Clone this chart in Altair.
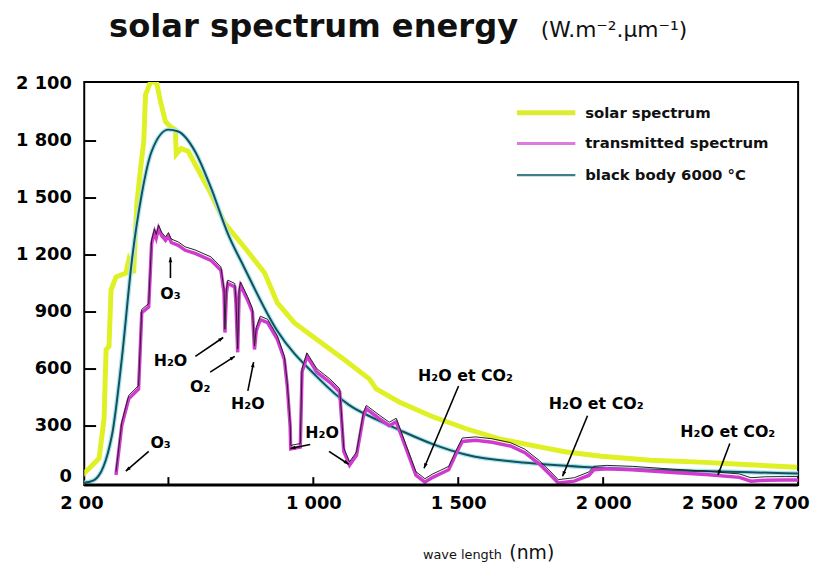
import altair as alt
import pandas as pd

# ---------------- data ----------------
solar_nm = [203, 227, 261, 278, 285, 295, 302, 319, 353, 363, 380, 391, 404, 415, 421, 438, 459, 473, 490,
            507, 524, 527, 544, 568, 592, 647, 695, 763, 832, 876, 934, 1012, 1105, 1194, 1217, 1296, 1412,
            1525, 1638, 1754, 1867, 1993, 2164, 2334, 2505, 2669]
solar_val = [42, 78, 130, 339, 703, 719, 1016, 1084, 1105, 1172, 1105, 1470, 1657, 1798, 2043, 2110, 2110,
             2006, 1902, 1876, 1860, 1730, 1761, 1746, 1678, 1522, 1365, 1240, 1105, 948, 844, 756, 651, 547,
             495, 427, 349, 287, 234, 198, 165, 141, 120, 110, 96, 83]

bb_nm = [203, 244, 305, 339, 374, 408, 442, 500, 534, 592, 647, 705, 761, 876, 1012, 1124, 1217, 1296, 1412,
         1525, 1754, 1993, 2335, 2629, 2680]
bb_val = [0, 16, 250, 651, 1172, 1521, 1745, 1860, 1850, 1745, 1553, 1313, 1136, 800, 560, 410, 335, 280, 205,
          150, 104, 80, 63, 52, 50]

tr_nm = [319, 339, 363, 397, 408, 432, 442, 452, 458, 466, 476, 490, 500, 510, 534, 558, 592, 647, 681, 692,
         695, 700, 705, 729, 733, 739, 744, 749, 773, 790, 797, 803, 817, 842, 876, 900, 910, 920, 922, 955,
         961, 978, 1012, 1057, 1091, 1105, 1125, 1149, 1173, 1183, 1228, 1262, 1286, 1320, 1354, 1385, 1412,
         1440, 1467, 1490, 1514, 1560, 1617, 1680, 1730, 1780, 1820, 1845, 1900, 1950, 1968, 2012, 2100, 2241,
         2354, 2470, 2510, 2560, 2629, 2680]
tr_val = [42, 302, 443, 495, 896, 927, 1261, 1320, 1290, 1340, 1303, 1277, 1300, 1266, 1251, 1225, 1209, 1172,
          1120, 1000, 792, 1000, 1050, 1032, 950, 688, 1000, 1040, 964, 900, 703, 800, 860, 844, 756, 650, 511,
          300, 180, 190, 584, 667, 584, 530, 479, 167, 94, 146, 354, 391, 339, 302, 323, 182, 42, 5, 30, 50, 70,
          146, 219, 225, 215, 195, 160, 100, 40, 0, 10, 40, 70, 75, 70, 55, 45, 30, 10, 15, 16, 16]

y_label_values = [0, 300, 600, 900, 1200, 1500, 1800, 2100]
y_tick_marks = [300, 600, 900, 1200, 1500, 1800]
x_label_values = [200, 1000, 1500, 2000, 2500, 2700]
x_label_texts = ["2 00", "1 000", "1 500", "2 000", "2 500", "2 700"]
x_tick_marks = [500, 1000, 1500, 2000]

ann_text = ["O₃", "H₂O", "O₂", "H₂O", "O₃", "H₂O", "H₂O et CO₂", "H₂O et CO₂", "H₂O et CO₂"]
ann_nm = [507, 507, 610, 774, 473, 1030, 1525, 1976, 2430]
ann_val = [995, 641, 505, 417, 208, 261, 563, 417, 266]

arrow_nm0 = [507, 593, 644, 774, 432, 989, 1054, 1501, 1946, 2437]
arrow_val0 = [1079, 667, 584, 485, 167, 203, 167, 511, 354, 208]
arrow_nm1 = [507, 689, 729, 794, 353, 921, 1122, 1382, 1860, 2396]
arrow_val1 = [1188, 766, 667, 636, 63, 182, 99, 78, 36, 42]

series_names = ["solar spectrum", "transmitted spectrum", "black body 6000 °C"]
title_main = "solar spectrum energy"
title_units = "(W.m⁻².µm⁻¹)"
x_title_a = "wave length"
x_title_b = "(nm)"

# ---------------- styling ----------------
W, H = 721, 407
FONT = "DejaVu Sans"
YELLOW = "#dff024"
MAGENTA = "#cf3bcf"
TEAL = "#17505a"
GLOW = "#a6e6ef"

solar = pd.DataFrame({"nm": solar_nm, "val": solar_val})
bb = pd.DataFrame({"nm": bb_nm, "val": bb_val})
tr = pd.DataFrame({"nm": tr_nm, "val": tr_val})
ann = pd.DataFrame({"t": ann_text, "nm": ann_nm, "val": ann_val})
arr = pd.DataFrame({"nm": arrow_nm0, "val": arrow_val0, "nm1": arrow_nm1, "val1": arrow_val1})
one = pd.DataFrame({"k": [0]})

x_label_expr = "".join(
    f"datum.value == {v} ? '{t}' : " for v, t in zip(x_label_values, x_label_texts)
) + "''"

xscale = alt.Scale(domain=[200, 2700], range=[-2.8, 729], nice=False, zero=False)
yscale = alt.Scale(domain=[0, 2100], range=[405, 2], nice=False, zero=False)

xaxis = alt.Axis(values=x_label_values, labelExpr=x_label_expr, ticks=False, tickSize=0, domain=False,
                 grid=False, title=None, labelFont=FONT, labelFontWeight="bold", labelFontSize=18,
                 labelColor="black", labelPadding=10, labelOverlap=False, labelBound=False, labelFlush=False,
                 labelOffset={"condition": [{"test": "datum.value == 2500", "value": -39},
                                            {"test": "datum.value == 2700", "value": -25}], "value": 0})
yaxis = alt.Axis(values=y_label_values, labelExpr="replace(format(datum.value, ','), ',', ' ')",
                 ticks=False, tickSize=0, domain=False, grid=False, title=None, labelFont=FONT,
                 labelFontWeight="bold", labelFontSize=18, labelColor="black", labelPadding=13,
                 labelOverlap=False, labelBound=False, labelFlush=False,
                 labelOffset={"condition": {"test": "datum.value == 0", "value": -7}, "value": 0})


def X(f):
    return alt.X(f, type="quantitative", scale=xscale, axis=xaxis)


def Y(f):
    return alt.Y(f, type="quantitative", scale=yscale, axis=yaxis)


solar_line = alt.Chart(solar).mark_line(color=YELLOW, strokeWidth=5, clip=True).encode(x=X("nm"), y=Y("val"))
bb_glow = alt.Chart(bb).mark_line(color=GLOW, strokeWidth=4.5, clip=True, interpolate="monotone").encode(
    x=X("nm"), y=Y("val"))
bb_line = alt.Chart(bb).mark_line(color=TEAL, strokeWidth=2, clip=True, interpolate="monotone").encode(
    x=X("nm"), y=Y("val"))
tr_line = alt.Chart(tr).mark_line(color=MAGENTA, strokeWidth=3.5, clip=True).encode(x=X("nm"), y=Y("val"))
tr_ink = alt.Chart(tr).transform_calculate(vb="datum.val + 18").mark_line(
    color="#222", strokeWidth=1, clip=True).encode(x=X("nm"), y=Y("vb"))

xt = alt.Chart(pd.DataFrame({"nm": x_tick_marks})).mark_rule(color="black", strokeWidth=2).encode(
    x=X("nm"), y=alt.value(H), y2=alt.value(H - 8))
yt = alt.Chart(pd.DataFrame({"val": y_tick_marks})).mark_rule(color="black", strokeWidth=2).encode(
    y=Y("val"), x=alt.value(0), x2=alt.value(12))
bottom = alt.Chart(one).mark_rule(color="black", strokeWidth=3).encode(
    x=alt.value(0), x2=alt.value(W), y=alt.value(H))

arrow_shafts = alt.Chart(arr).mark_rule(color="black", strokeWidth=1.6).encode(
    x=X("nm"), y=Y("val"), x2="nm1:Q", y2="val1:Q")
arrow_heads = alt.Chart(arr).transform_calculate(
    ang="(atan2((datum.nm1 - datum.nm) * 0.2884, (datum.val1 - datum.val) * 0.1919) * 180 / PI + 360) % 360"
).mark_point(shape="M0,0L-0.45,1.2L0.45,1.2Z", filled=True, color="black", opacity=1, size=70).encode(
    x=X("nm1"), y=Y("val1"), angle=alt.Angle("ang:Q", scale=None))

ann_text_l = alt.Chart(ann).mark_text(font=FONT, fontWeight="bold", fontSize=16, color="black",
                                      align="center", baseline="middle").encode(x=X("nm"), y=Y("val"), text="t:N")

title1 = alt.Chart(one).mark_text(text=title_main, font=FONT, fontWeight="bold", fontSize=32.5, color="#111",
                                  align="left", baseline="alphabetic").encode(x=alt.value(25), y=alt.value(-46))
title2 = alt.Chart(one).mark_text(text=title_units, font=FONT, fontSize=22, color="#111",
                                  align="left", baseline="alphabetic").encode(x=alt.value(461), y=alt.value(-46))
xt_a = alt.Chart(one).mark_text(text=x_title_a, font=FONT, fontSize=13, color="#111",
                                align="center", baseline="middle").encode(x=alt.value(382), y=alt.value(478))
xt_b = alt.Chart(one).mark_text(text=x_title_b, font=FONT, fontSize=19, color="#111",
                                align="center", baseline="middle").encode(x=alt.value(452), y=alt.value(476))

leg_colors = ["#dcec30", "#dc7ae2", "#3c7f86"]
leg_widths = [5, 3, 2.5]
leg_y = [31, 62, 94]
legend_layers = []
for name, c, w, yy in zip(series_names, leg_colors, leg_widths, leg_y):
    legend_layers.append(alt.Chart(one).mark_rule(color=c, strokeWidth=w).encode(
        x=alt.value(437), x2=alt.value(496), y=alt.value(yy)))
    legend_layers.append(alt.Chart(one).mark_text(text=name, font=FONT, fontWeight="bold", fontSize=15,
                                                  color="#111", align="left", baseline="middle").encode(
        x=alt.value(506), y=alt.value(yy)))

chart = alt.layer(
    solar_line, bb_glow, bb_line, tr_line, tr_ink, xt, yt, bottom, arrow_shafts, arrow_heads, ann_text_l,
    title1, title2, xt_a, xt_b, *legend_layers
).properties(
    width=W, height=H, autosize=alt.AutoSizeParams(type="none"),
    padding={"left": 77, "top": 72, "right": 13, "bottom": 80}, background="white"
).configure_view(stroke="black", strokeWidth=2)

chart.save("out.html", embed_options={"renderer": "svg", "actions": False})
